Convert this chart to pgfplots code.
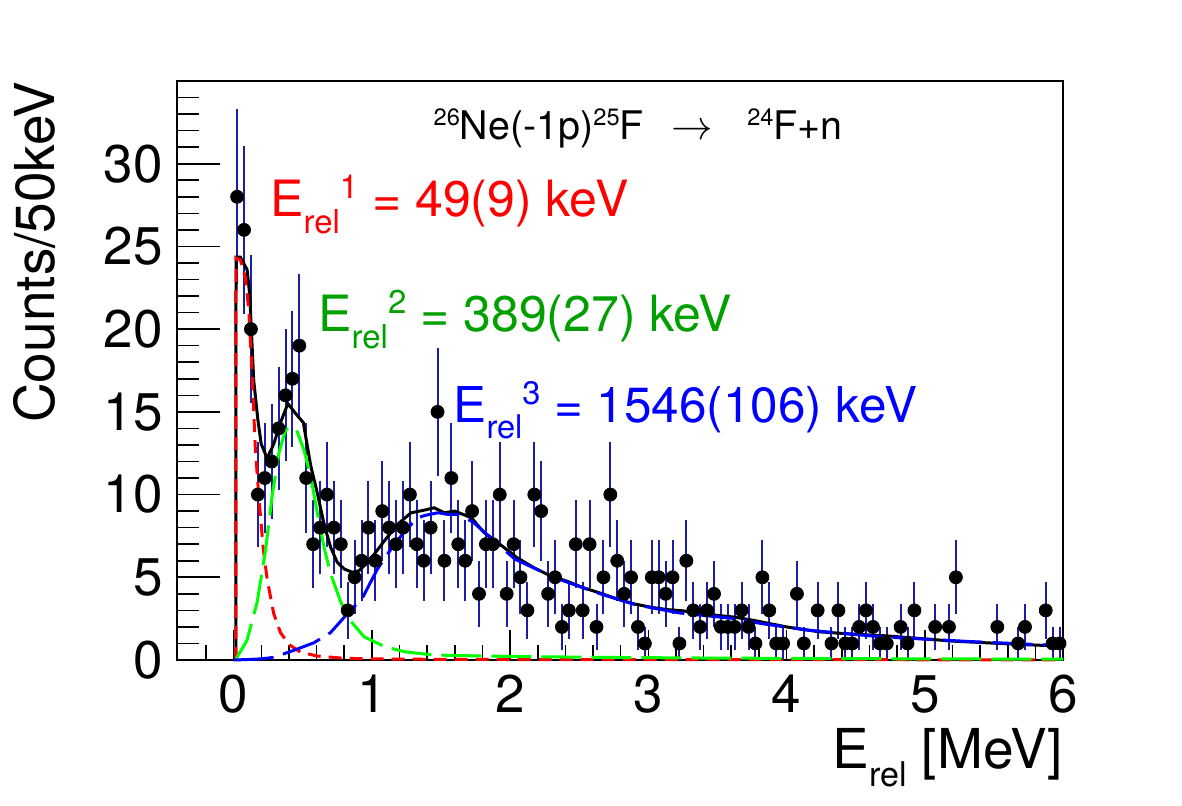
\documentclass[border=0pt]{standalone}
\usepackage{fontspec}
\setmainfont{TeX Gyre Heros}
\usepackage{graphicx}
\usepackage{pgfplots}
\usepackage{pgfplotstable}
\pgfplotsset{compat=1.18}
\definecolor{errblue}{RGB}{30,30,165}
\definecolor{labgreen}{RGB}{0,160,0}
\newcommand{\subs}[2][0.66]{\raisebox{-0.33em}{\scalebox{#1}{#2}}}
\newcommand{\sups}[2][0.66]{\raisebox{0.36em}{\scalebox{#1}{#2}}}

\pgfplotstableread{
x y e
0.025 28 5.29
0.075 26 5.10
0.125 20 4.47
0.175 10 3.16
0.225 11 3.32
0.275 12 3.46
0.325 14 3.74
0.375 16 4.00
0.425 17 4.12
0.475 19 4.36
0.525 11 3.32
0.575 7 2.65
0.625 8 2.83
0.675 10 3.16
0.725 8 2.83
0.775 7 2.65
0.825 3 1.73
0.875 5 2.24
0.925 6 2.45
0.975 8 2.83
1.025 6 2.45
1.075 9 3.00
1.125 8 2.83
1.175 7 2.65
1.225 8 2.83
1.275 10 3.16
1.325 7 2.65
1.375 6 2.45
1.425 8 2.83
1.475 15 3.87
1.525 6 2.45
1.575 11 3.32
1.625 7 2.65
1.675 6 2.45
1.725 9 3.00
1.775 4 2.00
1.825 7 2.65
1.875 7 2.65
1.925 10 3.16
1.975 4 2.00
2.025 7 2.65
2.075 5 2.24
2.125 3 1.73
2.175 10 3.16
2.225 9 3.00
2.275 4 2.00
2.325 5 2.24
2.375 2 1.41
2.425 3 1.73
2.475 7 2.65
2.525 3 1.73
2.575 7 2.65
2.625 2 1.41
2.675 5 2.24
2.725 10 3.16
2.775 6 2.45
2.825 4 2.00
2.875 5 2.24
2.925 2 1.41
2.975 1 1.00
3.025 5 2.24
3.075 5 2.24
3.125 4 2.00
3.175 5 2.24
3.225 1 1.00
3.275 6 2.45
3.325 3 1.73
3.375 2 1.41
3.425 3 1.73
3.475 4 2.00
3.525 2 1.41
3.575 2 1.41
3.625 2 1.41
3.675 3 1.73
3.725 2 1.41
3.775 1 1.00
3.825 5 2.24
3.875 3 1.73
3.925 1 1.00
3.975 1 1.00
4.075 4 2.00
4.125 1 1.00
4.225 3 1.73
4.325 1 1.00
4.375 3 1.73
4.425 1 1.00
4.475 1 1.00
4.525 2 1.41
4.575 3 1.73
4.625 2 1.41
4.675 1 1.00
4.725 1 1.00
4.825 2 1.41
4.875 1 1.00
4.925 3 1.73
5.075 2 1.41
5.175 2 1.41
5.225 5 2.24
5.525 2 1.41
5.675 1 1.00
5.725 2 1.41
5.875 3 1.73
5.925 1 1.00
5.975 1 1.00
}\datatable

\begin{document}
\begin{tikzpicture}
\useasboundingbox (0,0) rectangle (591pt,402.5pt);
\begin{axis}[
  at={(88.5pt,72.5pt)}, anchor=south west,
  scale only axis, width=443pt, height=289.5pt,
  xmin=-0.41, xmax=6, ymin=0, ymax=35,
  axis line style={line width=0.8pt},
  tick align=inside, xtick pos=bottom, ytick pos=left,
  xtick={0,1,2,3,4,5,6}, ytick={0,5,10,15,20,25,30},
  minor xtick={-0.2,0.2,0.4,0.6,0.8,1.2,1.4,1.6,1.8,2.2,2.4,2.6,2.8,3.2,3.4,3.6,3.8,4.2,4.4,4.6,4.8,5.2,5.4,5.6,5.8},
  minor ytick={1,2,3,4,6,7,8,9,11,12,13,14,16,17,18,19,21,22,23,24,26,27,28,29,31,32,33,34},
  major tick length=21.5pt, minor tick length=11pt,
  xtick style={/pgfplots/major tick length=15pt,/pgfplots/minor tick length=7.5pt},
  every tick/.style={black, line width=0.8pt},
  /pgf/number format/assume math mode=true,
  xticklabel style={font=\fontsize{26.5}{30}\selectfont, inner sep=0pt, yshift=-7.5pt},
  yticklabel style={font=\fontsize{26.5}{30}\selectfont, inner sep=0pt, xshift=-7pt},
  clip=false,
]
\addplot[only marks, mark=*, mark size=3.25pt, black,
  error bars/.cd, y dir=both, y explicit, error mark=none,
  error bar style={errblue, line width=1pt}]
  table[x=x, y=y, y error=e] {\datatable};

\addplot[black, line width=1.5pt] coordinates {
(0.015,0) (0.017,24.35) (0.048,24.35) (0.097,23.6) (0.116,22.1) (0.145,16.9)
(0.174,14.6) (0.199,13.06) (0.242,12.2) (0.29,13.06) (0.339,14.35) (0.392,15.5)
(0.448,14.9) (0.504,14.35) (0.557,11.76) (0.605,10.1) (0.654,8.2) (0.702,6.8)
(0.75,5.9) (0.8,5.5) (0.86,5.3) (0.908,5.4) (0.99,6.1) (1.09,7.2) (1.186,8.2)
(1.283,8.9) (1.38,9.06) (1.45,9.2) (1.525,8.9) (1.6,9.0) (1.72,8.6) (1.806,7.75)
(1.926,7.0) (2.047,6.2) (2.168,5.6) (2.288,5.1) (2.409,4.77) (2.529,4.37)
(2.65,4.05) (2.771,3.7) (2.892,3.4) (3.012,3.2) (3.133,3.05) (3.253,2.97)
(3.374,2.8) (3.494,2.7) (3.615,2.6) (3.759,2.4) (4.0,2.0) (4.241,1.7)
(4.483,1.56) (4.724,1.46) (4.965,1.3) (5.206,1.14) (5.447,1.04) (5.688,0.94)
(5.93,0.86) (6.0,0.84)
};
\addplot[red, line width=1.5pt, dash pattern=on 6.5pt off 4pt] coordinates {
(0.015,0) (0.017,24.3) (0.048,24.2) (0.085,23.1) (0.109,21.2) (0.133,17.4)
(0.157,12.7) (0.182,9.9) (0.213,6.8) (0.242,4.9) (0.29,2.8) (0.339,1.65)
(0.4,0.94) (0.484,0.47) (0.605,0.24) (0.8,0.1) (1.2,0.05) (2,0.03) (6,0.01)
};
\addplot[green, line width=1.5pt, dash pattern=on 20pt off 5pt] coordinates {
(0.012,0) (0.097,1.2) (0.17,3.5) (0.23,6.6) (0.278,9.9) (0.327,12.5) (0.375,13.9)
(0.416,14.1) (0.46,13.8) (0.508,12.7) (0.557,11.1) (0.605,8.9) (0.654,6.8)
(0.702,5.2) (0.775,3.5) (0.847,2.35) (0.944,1.4) (1.09,0.82) (1.235,0.5)
(1.45,0.3) (1.82,0.24) (2.18,0.2) (2.66,0.16) (3.4,0.12) (4.5,0.08) (6,0.05)
};
\addplot[blue, line width=1.5pt, dash pattern=on 20pt off 5pt] coordinates {
(0,0) (0.1,0.03) (0.2,0.07) (0.29,0.16) (0.44,0.6) (0.58,1.04) (0.70,1.65)
(0.823,2.8) (0.932,3.76) (1.04,5.5) (1.138,6.7) (1.235,7.76) (1.33,8.6)
(1.39,8.75) (1.477,8.9) (1.55,8.8) (1.62,8.8) (1.73,8.35) (2.034,6.1)
(2.324,4.97) (2.663,3.97) (2.905,3.35) (3.22,2.85) (3.63,2.5) (3.82,2.2)
(4.16,1.8) (4.69,1.4) (5.32,1.12) (5.9,0.9) (6,0.87)
};

\node[anchor=base west, inner sep=0pt, font=\fontsize{19.7}{22}\selectfont]
  at (axis cs:1.444,31.48) {\sups[0.6]{26}Ne(-1p)\sups[0.6]{25}F\hspace{14pt}$\rightarrow$\hspace{17pt}\sups[0.6]{24}F+n};
\node[anchor=base west, inner sep=0pt, red, font=\fontsize{25}{29}\selectfont]
  at (axis cs:0.262,26.8) {E\subs{rel}\sups{1} = 49(9) keV};
\node[anchor=base west, inner sep=0pt, labgreen, font=\fontsize{25}{29}\selectfont]
  at (axis cs:0.61,19.85) {E\subs{rel}\sups{2} = 389(27) keV};
\node[anchor=base west, inner sep=0pt, blue, font=\fontsize{24.7}{29}\selectfont]
  at (axis cs:1.588,14.37) {E\subs{rel}\sups{3} = 1546(106) keV};
\end{axis}
\node[rotate=90, anchor=base east, inner sep=0pt, font=\fontsize{27.5}{32}\selectfont]
  at (27.5pt,362pt) {Counts/50keV};
\node[anchor=base east, inner sep=0pt, font=\fontsize{27.5}{32}\selectfont]
  at (531.5pt,18.5pt) {E\subs[0.62]{rel} [MeV]};
\end{tikzpicture}
\end{document}
